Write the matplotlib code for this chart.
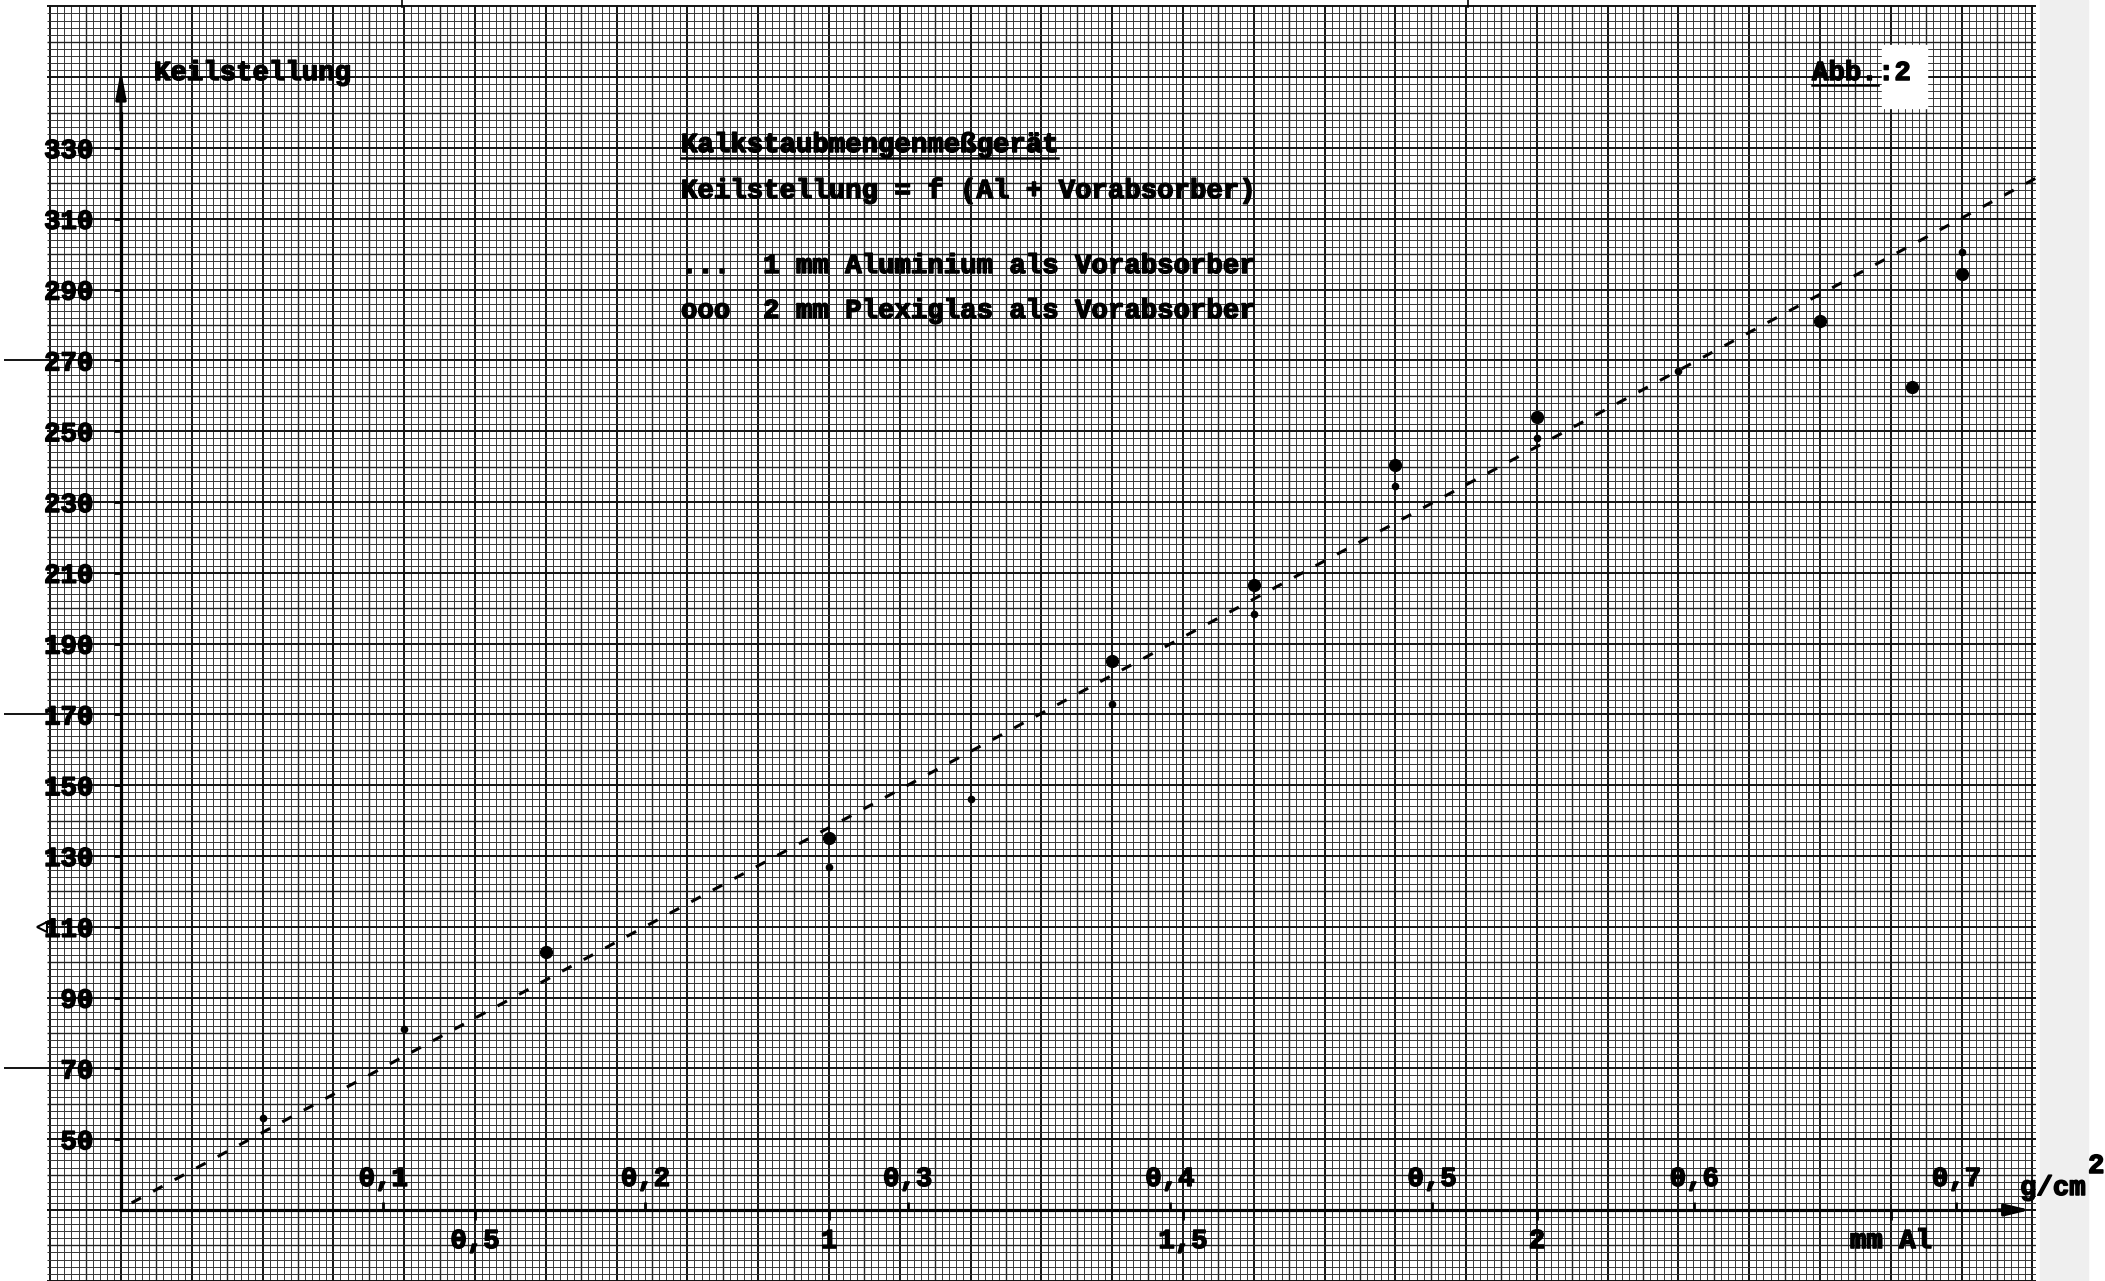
import numpy as np
import matplotlib
matplotlib.use('Agg')
import matplotlib.pyplot as plt
import matplotlib.patheffects as pe
from matplotlib.lines import Line2D
from matplotlib.patches import Rectangle

plt.rcParams['font.family'] = ['Liberation Mono', 'DejaVu Sans Mono']
plt.rcParams['font.weight'] = 'bold'

# --- data (x in mm Al, y = Keilstellung) ---
al_x = [0.2, 0.4, 1.0, 1.2, 1.4, 1.6, 1.8, 2.0, 2.2, 2.6]
al_y = [56, 81, 127, 146, 173, 198.5, 234.5, 248, 267, 300.5]
plexi_x = [0.6, 1.0, 1.4, 1.6, 1.8, 2.0, 2.4, 2.53, 2.6]
plexi_y = [103, 135, 185, 206.5, 240.5, 254, 281, 262.5, 294.5]
line_x = [0.015, 2.705]
line_y = [32, 321.5]

y_ticks = [50, 70, 90, 110, 130, 150, 170, 190, 210, 230, 250, 270, 290, 310, 330]
mm_ticks = [0.5, 1.0, 1.5, 2.0, 2.5]
mm_labels = ['0,5', '1', '1,5', '2', 'mm Al']
g_ticks = [0.1, 0.2, 0.3, 0.4, 0.5, 0.6, 0.7]
g_labels = ['0,1', '0,2', '0,3', '0,4', '0,5', '0,6', '0,7']
density = 2.7  # g/cm3 ; 1 mm Al = 0.27 g/cm2

W, H = 2105, 1281
FS = 19.7
ink = [pe.withStroke(linewidth=1.1, foreground='k')]

fig = plt.figure(figsize=(W / 100, H / 100), dpi=100)
fig.patch.set_facecolor('white')
ax = fig.add_axes([47 / W, 0, (2036 - 47) / W, (H - 5) / H])
x0, x1 = -0.1045, 2.705
y0, y1 = 9.94, 370.4
ax.set_xlim(x0, x1)
ax.set_ylim(y0, y1)

# graph paper: 1 mm = 0.01 mm Al horizontally, 2 units vertically
k = np.arange(-10, 271)
xs = k / 100
hv = k % 10 == 0
md = (k % 5 == 0) & ~hv
fn = ~(hv | md)
ax.vlines(xs[fn], y0, y1, colors='#353535', lw=0.7, zorder=0)
ax.vlines(xs[md], y0, y1, colors='#222222', lw=1.0, zorder=0)
ax.vlines(xs[hv], y0, y1, colors='#111111', lw=1.4, zorder=0)

ys = np.arange(10, 371, 2)
hvy = (ys - 30) % 20 == 0
mdy = ((ys - 30) % 10 == 0) & ~hvy
fny = ~(hvy | mdy)
ax.hlines(ys[fny], x0, x1, colors='#353535', lw=0.7, zorder=0)
ax.hlines(ys[mdy], x0, x1, colors='#222222', lw=1.0, zorder=0)
ax.hlines(ys[hvy], x0, x1, colors='#111111', lw=1.4, zorder=0)

# axes lines
for s in ['top', 'right']:
    ax.spines[s].set_visible(False)
ax.spines['left'].set_position(('data', 0))
ax.spines['left'].set_bounds(30, 340)
ax.spines['bottom'].set_position(('data', 30))
ax.spines['bottom'].set_bounds(0, 2.66)
for s in ['left', 'bottom']:
    ax.spines[s].set_linewidth(2.3)
    ax.spines[s].set_zorder(3)

ax.annotate('', xy=(0, 352), xytext=(0, 335),
            arrowprops=dict(arrowstyle='-|>,head_length=1.6,head_width=0.3',
                            color='k', lw=2.3, shrinkA=0, shrinkB=0),
            annotation_clip=False)
ax.annotate('', xy=(2.697, 30), xytext=(2.65, 30),
            arrowprops=dict(arrowstyle='-|>,head_length=1.5,head_width=0.36',
                            color='k', lw=2.3, shrinkA=0, shrinkB=0),
            annotation_clip=False)

ax.set_yticks(y_ticks, [str(v) for v in y_ticks])
ax.tick_params(axis='y', direction='out', length=5, width=2, pad=15, labelsize=FS)
ax.set_xticks(mm_ticks, mm_labels)
ax.tick_params(axis='x', direction='out', length=7, width=2, pad=6, labelsize=FS)
ax.minorticks_off()

sec = ax.secondary_xaxis(30, functions=(lambda x: x * density / 10,
                                        lambda x: x * 10 / density),
                         transform=ax.transData)
sec.set_alignment('top')
sec.spines['top'].set_visible(False)
sec.set_xticks(g_ticks, g_labels)
sec.tick_params(axis='x', direction='out', length=6, width=2, pad=7, labelsize=FS)

for lab in ax.get_yticklabels() + ax.get_xticklabels() + sec.get_xticklabels():
    lab.set_path_effects(ink)

# data marks
ax.plot(line_x, line_y, color='k', lw=2.2, ls=(0, (3.5, 4.5)), zorder=4)
ax.plot(plexi_x, plexi_y, 'o', ms=8.5, color='k', zorder=5)
ax.plot(al_x, al_y, 'o', ms=4.5, color='k', zorder=5)

# marks left of the paper
ax.hlines([70, 170, 270], -0.165, -0.1045, colors='k', lw=1.3, clip_on=False)
ax.plot([-0.112], [110], marker='<', ms=7, mfc='white', mec='k', mew=1.5, clip_on=False)

# paper margins
fig.add_artist(Rectangle((2040 / W, 0), 48 / W, 1, transform=fig.transFigure,
                         color='#efefef', zorder=-1))
for px in [402, 1468]:
    fig.add_artist(Line2D([px / W, px / W], [1, 1 - 7 / H], color='k', lw=1.2))
fig.add_artist(Rectangle((1882 / W, 1 - 108 / H), 45 / W, 63 / H,
                         transform=fig.transFigure, color='white', zorder=1))


def ftxt(px, py, s, **kw):
    return fig.text(px / W, 1 - py / H, s, fontsize=FS, ha='left', va='center',
                    color='k', zorder=4, path_effects=ink, **kw)


ftxt(154, 73, 'Keilstellung')
t_title = ftxt(681, 145, 'Kalkstaubmengenmeßgerät')
ftxt(681, 191, 'Keilstellung = f (Al + Vorabsorber)')
ftxt(681, 266, '...  1 mm Aluminium als Vorabsorber')
ftxt(681, 311, 'ooo  2 mm Plexiglas als Vorabsorber')
t_abb = ftxt(1812, 73, 'Abb.')
ftxt(1878, 73, ':2')
ftxt(2020, 1188, 'g/cm')
ftxt(2088, 1166, '2')

fig.canvas.draw()
for t, uy in [(t_title, 158), (t_abb, 85)]:
    bb = t.get_window_extent()
    fig.add_artist(Line2D([bb.x0 / W, bb.x1 / W], [1 - uy / H, 1 - uy / H],
                          color='k', lw=1.8, zorder=4))

fig.savefig('out.png', dpi=100, facecolor='white')
